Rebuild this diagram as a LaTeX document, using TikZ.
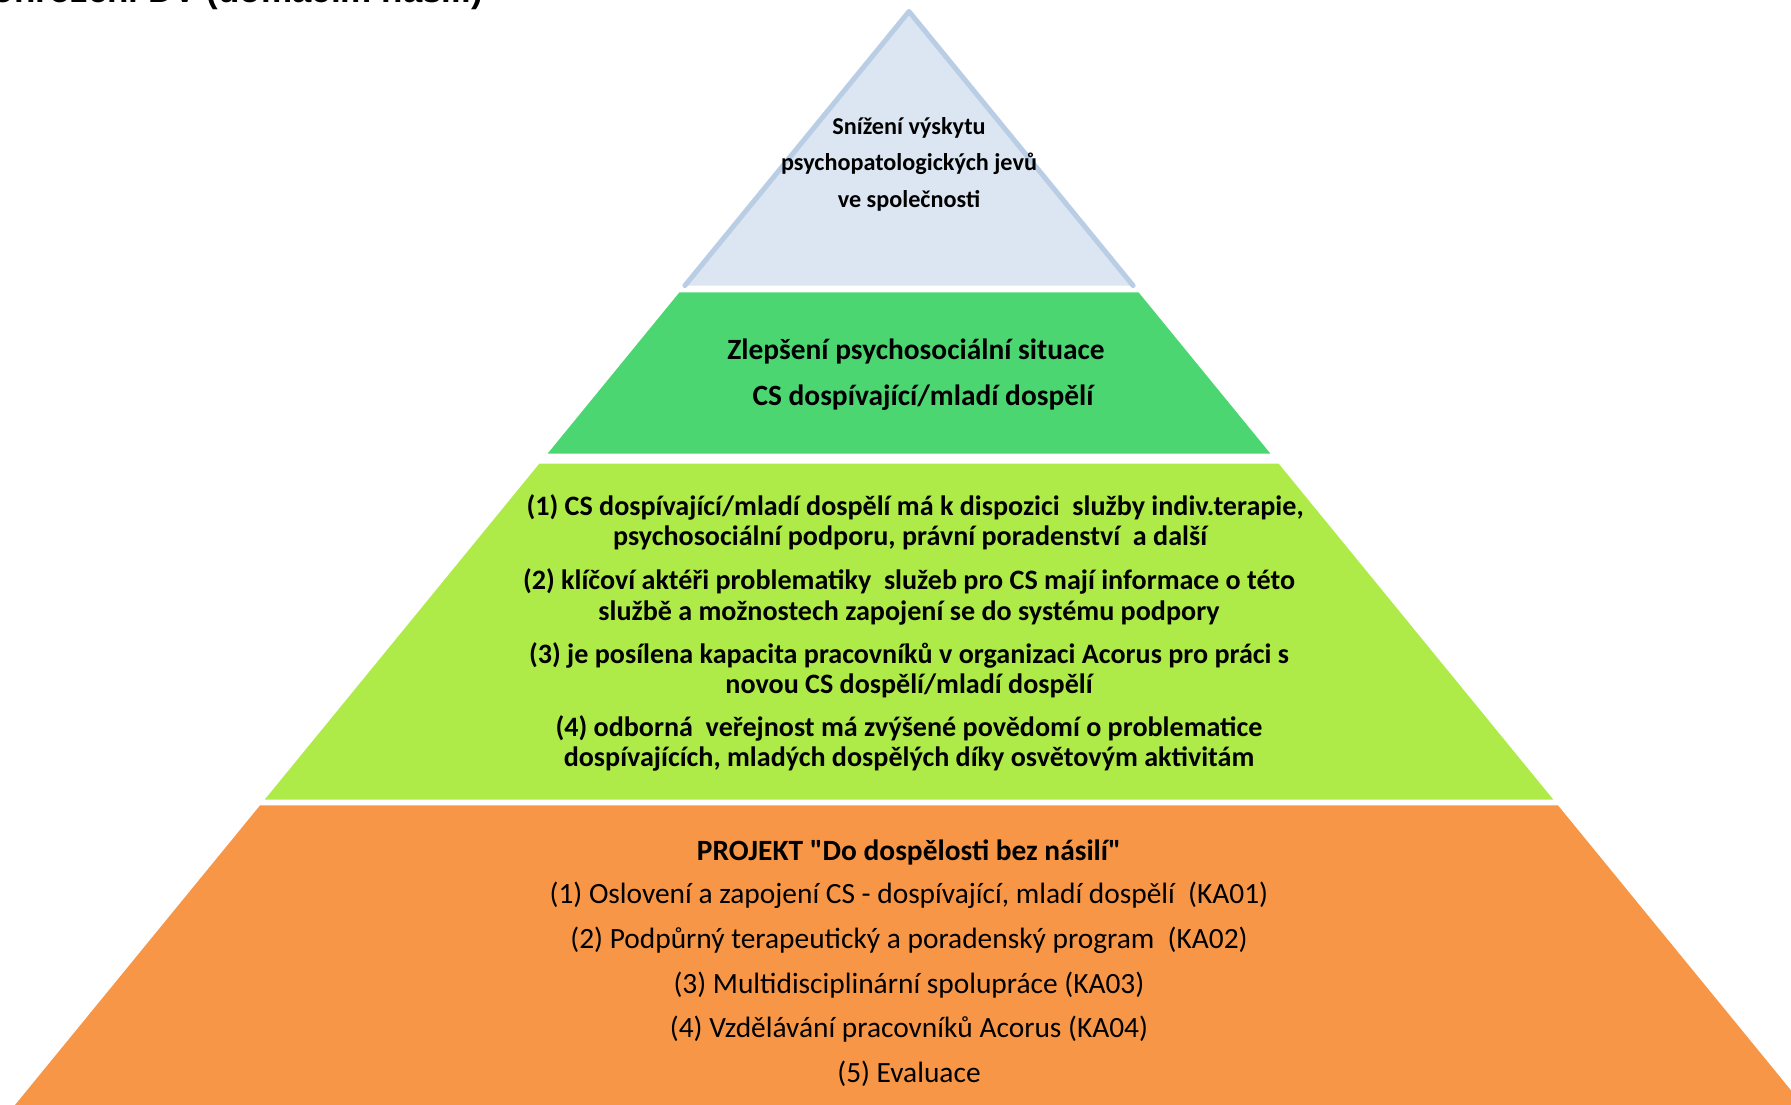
\documentclass[tikz,border=0pt]{standalone}
\usepackage{fontspec}
\setmainfont{Carlito}[Ligatures=TeXOff]
\newfontfamily\arialfont{Liberation Sans}
\definecolor{bluefill}{HTML}{DCE6F2}
\definecolor{blueline}{HTML}{B9CDE5}
\definecolor{greenfill}{HTML}{4CD672}
\definecolor{limefill}{HTML}{AEEA48}
\definecolor{orangefill}{HTML}{F79646}
\begin{document}
\begin{tikzpicture}[x=1pt,y=-1pt,
  txt/.style={inner sep=0pt, anchor=base},
  bluetxt/.style={txt, font=\fontsize{24.2}{29}\selectfont\bfseries},
  greentxt/.style={txt, font=\fontsize{29.4}{35}\selectfont\bfseries},
  limetxt/.style={txt, font=\fontsize{28.1}{33}\selectfont\bfseries},
  orangehead/.style={txt, font=\fontsize{29.4}{35}\selectfont\bfseries},
  orangetxt/.style={txt, font=\fontsize{29.4}{35}\selectfont}]
\useasboundingbox (0,0) rectangle (1791,1105);
\clip (0,0) rectangle (1791,1105);
% layers
\fill[bluefill] (909,11.5) -- (1133.1,285.6) -- (684.9,285.6) -- cycle;
\draw[blueline, line width=5pt, line join=round, line cap=round] (684.9,285.6) -- (909,11.5) -- (1133.1,285.6);
\fill[greenfill] (679.4,292.4) -- (1138.6,292.4) -- (1270.3,453.5) -- (547.7,453.5) -- cycle;
\fill[limefill] (539.3,463.7) -- (1278.7,463.7) -- (1553.2,799.5) -- (264.8,799.5) -- cycle;
\fill[orangefill] (260.1,805.3) -- (1557.9,805.3) -- (1803,1105) -- (15,1105) -- cycle;
% cut-off title
\node[inner sep=0pt, anchor=base east, font=\arialfont\fontsize{35}{42}\selectfont\bfseries] (title) at (483,2.5) {ohrožení DV (domácím násilí)};
% blue text
\node[bluetxt] (b1) at (909,134.3) {Snížení výskytu};
\node[bluetxt] (b2) at (909,170.9) {psychopatologických jevů};
\node[bluetxt] (b3) at (909,207.4) {ve společnosti};
% green text
\node[greentxt] (g1) at (916,359.7) {Zlepšení psychosociální situace};
\node[greentxt] (g2) at (923,405.4) {CS dospívající/mladí dospělí};
% lime text
\node[limetxt] (l1) at (915,515.1) {(1) CS dospívající/mladí dospělí má k dispozici\ \ služby indiv.terapie,};
\node[limetxt] (l2) at (910,545.9) {psychosociální podporu, právní poradenství\ \ a další};
\node[limetxt] (l3) at (909,589.3) {(2) klíčoví aktéři problematiky\ \ služeb pro CS mají informace o této};
\node[limetxt] (l4) at (909,620.1) {službě a možnostech zapojení se do systému podpory};
\node[limetxt] (l5) at (909,663.5) {(3) je posílena kapacita pracovníků v organizaci Acorus pro práci s};
\node[limetxt] (l6) at (909,693.2) {novou CS dospělí/mladí dospělí};
\node[limetxt] (l7) at (909,736.6) {(4) odborná\ \ veřejnost má zvýšené povědomí o problematice};
\node[limetxt] (l8) at (909,766.3) {dospívajících, mladých dospělých díky osvětovým aktivitám};
% orange text
\node[orangehead] (o0) at (909,860.5) {PROJEKT "Do dospělosti bez násilí"};
\node[orangetxt] (o1) at (909,903.9) {(1) Oslovení a zapojení CS - dospívající, mladí dospělí\ \ (KA01)};
\node[orangetxt] (o2) at (909,948.4) {(2) Podpůrný terapeutický a poradenský program\ \ (KA02)};
\node[orangetxt] (o3) at (909,993) {(3) Multidisciplinární spolupráce (KA03)};
\node[orangetxt] (o4) at (909,1037.5) {(4) Vzdělávání pracovníků Acorus (KA04)};
\node[orangetxt] (o5) at (909,1082.1) {(5) Evaluace};
\end{tikzpicture}
\end{document}
